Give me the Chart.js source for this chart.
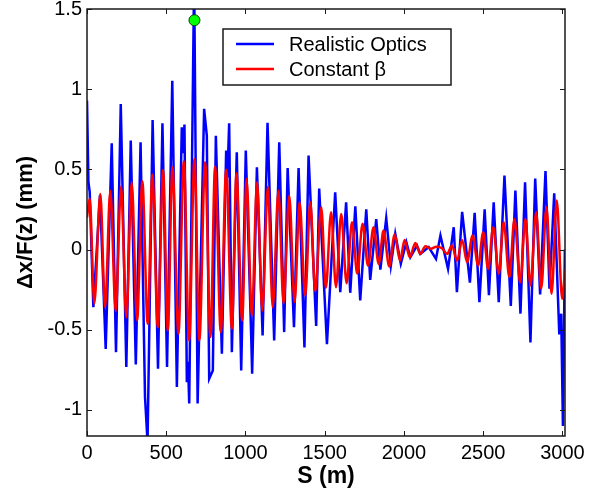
<!DOCTYPE html>
<html>
<head>
<meta charset="utf-8">
<script src="https://cdn.jsdelivr.net/npm/chart.js@4.4.1/dist/chart.umd.min.js"></script>
<style>
  html, body { margin: 0; padding: 0; background: #fff; }
  #wrap { width: 598px; height: 494px; }
</style>
</head>
<body>
<div id="wrap"><canvas id="chart" width="598" height="494"></canvas></div>
<script>
const xTicks = [0, 500, 1000, 1500, 2000, 2500, 3000];
const yTicks = [-1, -0.5, 0, 0.5, 1, 1.5];
const seriesNames = ['Realistic Optics', 'Constant \u03b2'];

// realistic optics (blue) at its turning points
const blueS = [0, 9, 17, 40, 82, 118, 156, 183, 213, 248, 276, 308, 338, 366, 382, 414, 448, 476, 505, 538,
  567, 598, 606, 615, 630, 637, 645, 676, 698, 739, 756, 771, 794, 813, 851, 878, 886, 897, 914, 945,
  973, 1002, 1036, 1042, 1072, 1108, 1139, 1181, 1213, 1244, 1266, 1306, 1335, 1372, 1398, 1446, 1465, 1514, 1566, 1598,
  1635, 1661, 1693, 1724, 1762, 1787, 1825, 1851, 1888, 1917, 1945, 1980, 2015, 2040, 2082, 2103, 2156, 2202, 2230, 2278,
  2314, 2334, 2367, 2416, 2446, 2476, 2509, 2536, 2566, 2598, 2634, 2674, 2703, 2735, 2764, 2798, 2828, 2859, 2893, 2918,
  2948, 2980, 2992, 3003, 3015];
const blueV = [0.93, 0.42, 0.36, -0.36, 0.34, -0.62, 0.662, -0.64, 0.907, -0.733, 0.68, -0.717, 0.669, -0.92, -1.2, 0.808, -0.743, 0.787, -0.733, 1.053,
  -0.858, 0.762, 0.6, 0.779, -0.827, -0.7, -0.96, 1.7, -0.96, 0.877, 0.71, -0.806, -0.754, 0.71, -0.65, 0.617, 0.45, 0.787, -0.64, 0.606,
  -0.754, 0.617, -0.54, -0.775, 0.513, -0.536, 0.79, -0.567, 0.669, -0.515, 0.508, -0.484, 0.508, -0.611, 0.586, -0.477, 0.38, -0.59, 0.357, -0.266,
  0.295, -0.27, 0.27, -0.318, 0.25, -0.19, 0.19, -0.125, 0.195, -0.1, 0.098, -0.089, 0.045, -0.048, 0.025, -0.027, 0.015, -0.058, 0.087, -0.12,
  0.139, -0.266, 0.235, -0.207, 0.229, -0.328, 0.25, -0.285, 0.295, -0.328, 0.461, -0.352, 0.368, -0.4, 0.42, -0.58, 0.443, -0.28, 0.49, -0.245,
  0.35, -0.53, -0.4, -1.1, 0.0];

// constant beta (red), peaks and troughs
const redS = [0, 17, 46, 84, 114, 147, 181, 215, 248, 282, 316, 349, 383, 412, 447, 480, 510, 539, 577, 611,
  644, 678, 709, 745, 779, 808, 844, 878, 914, 943, 979, 1007, 1040, 1073, 1106, 1141, 1172, 1208, 1240, 1276,
  1310, 1341, 1377, 1409, 1440, 1478, 1507, 1540, 1571, 1604, 1638, 1672, 1705, 1739, 1773, 1808, 1840, 1871, 1907, 1941,
  1975, 2004, 2036, 2072, 2103, 2135, 2170, 2205, 2240, 2272, 2303, 2335, 2367, 2398, 2433, 2468, 2500, 2531, 2563, 2598,
  2629, 2665, 2697, 2733, 2766, 2798, 2834, 2866, 2899, 2931, 2964, 2998, 3016];
const redV = [0.2, 0.316, -0.336, 0.347, -0.36, 0.367, -0.384, 0.393, -0.422, 0.42, -0.442, 0.426, -0.463, 0.467, -0.484, 0.496, -0.505, 0.513, -0.525, 0.55,
  -0.567, 0.565, -0.567, 0.544, -0.546, 0.517, -0.515, 0.498, -0.494, 0.475, -0.442, 0.44, -0.411, 0.42, -0.38, 0.39, -0.36, 0.367, -0.336, 0.336,
  -0.328, 0.295, -0.287, 0.295, -0.26, 0.264, -0.24, 0.232, -0.235, 0.222, -0.21, 0.17, -0.15, 0.16, -0.1, 0.139, -0.09, 0.118, -0.106, 0.093,
  -0.07, 0.06, -0.048, 0.04, -0.027, 0.02, 0.005, 0.018, 0.008, -0.027, 0.025, -0.07, 0.06, -0.079, 0.087, -0.1, 0.108, -0.12, 0.139, -0.15,
  0.17, -0.172, 0.191, -0.204, 0.191, -0.224, 0.232, -0.245, 0.264, -0.276, 0.305, -0.307, -0.13];

// highlighted point
const markS = [678];
const markV = [1.43];

const FONT = "'Liberation Sans', Arial, sans-serif";
const toPoints = (xs, ys) => xs.map((x, i) => ({ x, y: ys[i] }));

// box, inward ticks on all four sides, legend inside the plot
const framePlugin = {
  id: 'frame',
  afterDatasetsDraw(chart) {
    const { ctx, chartArea: a, scales: { x, y } } = chart;
    ctx.save();
    ctx.strokeStyle = '#1a1a1a';
    ctx.lineWidth = 1;
    ctx.beginPath();
    for (const t of x.ticks) {
      const px = Math.round(x.getPixelForValue(t.value)) + 0.5;
      ctx.moveTo(px, a.bottom); ctx.lineTo(px, a.bottom - 5);
      ctx.moveTo(px, a.top); ctx.lineTo(px, a.top + 5);
    }
    for (const t of y.ticks) {
      const py = Math.round(y.getPixelForValue(t.value)) + 0.5;
      ctx.moveTo(a.left, py); ctx.lineTo(a.left + 5, py);
      ctx.moveTo(a.right, py); ctx.lineTo(a.right - 5, py);
    }
    ctx.stroke();
    ctx.lineWidth = 1.5;
    ctx.strokeRect(a.left, a.top, a.right - a.left, a.bottom - a.top);

    // legend
    const bx = a.left + 136, by = a.top + 20, bw = 228, bh = 56;
    ctx.fillStyle = '#fff';
    ctx.fillRect(bx, by, bw, bh);
    ctx.strokeRect(bx, by, bw, bh);
    const colors = ['#0000ff', '#ff0000'];
    ctx.font = '20px ' + FONT;
    ctx.textBaseline = 'middle';
    seriesNames.forEach((name, i) => {
      const ly = by + 15 + i * 25;
      ctx.strokeStyle = colors[i];
      ctx.lineWidth = 2.5;
      ctx.beginPath();
      ctx.moveTo(bx + 13, ly); ctx.lineTo(bx + 51, ly);
      ctx.stroke();
      ctx.fillStyle = '#000';
      ctx.fillText(name, bx + 66, ly + 1);
    });
    ctx.restore();
  }
};

new Chart(document.getElementById('chart'), {
  type: 'line',
  data: {
    datasets: [
      {
        label: 'marker',
        data: toPoints(markS, markV),
        showLine: false,
        pointRadius: 5.5,
        pointBackgroundColor: '#00ff00',
        pointBorderColor: '#0a3a0a',
        pointBorderWidth: 1,
        order: 0
      },
      {
        label: seriesNames[1],
        data: toPoints(redS, redV),
        borderColor: '#ff0000',
        borderWidth: 2.5,
        pointRadius: 0,
        cubicInterpolationMode: 'monotone',
        order: 1
      },
      {
        label: seriesNames[0],
        data: toPoints(blueS, blueV),
        borderColor: '#0000ff',
        borderWidth: 2.5,
        pointRadius: 0,
        tension: 0,
        order: 2
      }
    ]
  },
  options: {
    responsive: false,
    devicePixelRatio: 1,
    animation: false,
    layout: { padding: { left: 9, right: 33, top: 9, bottom: 0 } },
    plugins: { legend: { display: false }, tooltip: { enabled: false } },
    scales: {
      x: {
        type: 'linear',
        min: 0,
        max: 3016,
        afterBuildTicks: s => { s.ticks = xTicks.map(v => ({ value: v })); },
        afterFit: s => { s.height = 58; s.paddingLeft = 0; s.paddingRight = 0; },
        grid: { display: false, drawTicks: false },
        border: { display: false },
        ticks: {
          color: '#000', padding: 5, maxRotation: 0, autoSkip: false,
          font: { family: FONT, size: 20 },
          callback: v => String(v)
        },
        title: {
          display: true, text: 'S (m)', color: '#000',
          font: { family: FONT, size: 23, weight: 'bold' },
          padding: { top: 0, bottom: 4 }
        }
      },
      y: {
        type: 'linear',
        min: -1.163,
        max: 1.5,
        afterBuildTicks: s => { s.ticks = yTicks.map(v => ({ value: v })); },
        afterFit: s => { s.width = 78; s.paddingTop = 0; s.paddingBottom = 0; },
        grid: { display: false, drawTicks: false },
        border: { display: false },
        ticks: {
          color: '#000', padding: 5,
          font: { family: FONT, size: 20 },
          callback: v => String(v)
        },
        title: {
          display: true, text: '\u0394x/F(z) (mm)', color: '#000',
          font: { family: FONT, size: 22, weight: 'bold' },
          padding: { top: 4, bottom: 4 }
        }
      }
    }
  },
  plugins: [framePlugin]
});
</script>
</body>
</html>
